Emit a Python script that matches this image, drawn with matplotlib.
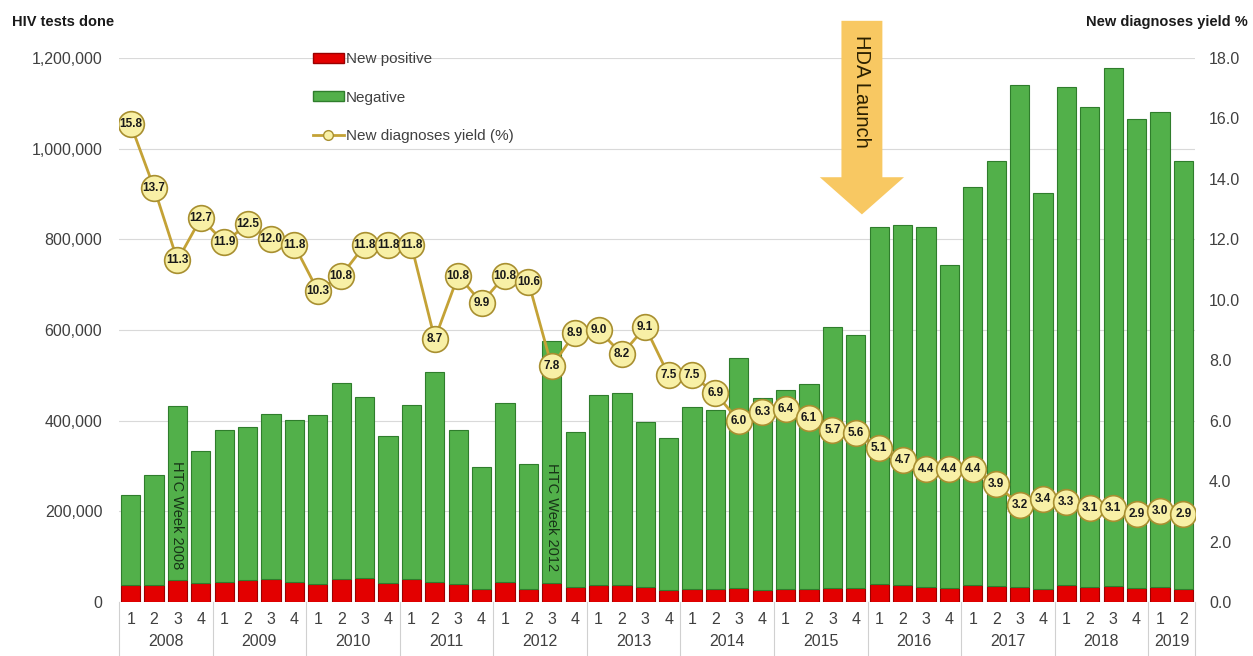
import matplotlib.pyplot as plt
import matplotlib.transforms as mtransforms
from matplotlib.patches import FancyArrow, Patch
from matplotlib.lines import Line2D
import numpy as np

plt.rcParams['font.family'] = ['Liberation Sans Narrow', 'Liberation Sans', 'DejaVu Sans']

# Datos trimestrales 2008 Q1 - 2019 Q2
years = ['2008', '2009', '2010', '2011', '2012', '2013',
         '2014', '2015', '2016', '2017', '2018', '2019']
quarters_per_year = [4, 4, 4, 4, 4, 4, 4, 4, 4, 4, 4, 2]

total_tests = [236000, 281000, 433000, 334000,
               380000, 385000, 415000, 401000,
               413000, 482000, 452000, 367000,
               435000, 508000, 379000, 297000,
               438000, 305000, 575000, 376000,
               457000, 460000, 398000, 362000,
               430000, 423000, 539000, 450000,
               467000, 480000, 607000, 588000,
               827000, 832000, 828000, 743000,
               916000, 972000, 1140000, 903000,
               1135000, 1091000, 1177000, 1065000,
               1080000, 972000]

new_positive = [37000, 37000, 49000, 41000,
                45000, 48000, 50000, 45000,
                40000, 50000, 52000, 41000,
                50000, 44000, 39000, 28000,
                45000, 29000, 43000, 33000,
                38000, 37000, 34000, 26000,
                29000, 28000, 30000, 27000,
                28000, 28000, 31000, 30000,
                40000, 37000, 34000, 31000,
                38000, 36000, 33000, 29000,
                37000, 33000, 35000, 30000,
                32000, 29000]

yield_pct = [15.8, 13.7, 11.3, 12.7,
             11.9, 12.5, 12.0, 11.8,
             10.3, 10.8, 11.8, 11.8,
             11.8, 8.7, 10.8, 9.9,
             10.8, 10.6, 7.8, 8.9,
             9.0, 8.2, 9.1, 7.5,
             7.5, 6.9, 6.0, 6.3,
             6.4, 6.1, 5.7, 5.6,
             5.1, 4.7, 4.4, 4.4,
             4.4, 3.9, 3.2, 3.4,
             3.3, 3.1, 3.1, 2.9,
             3.0, 2.9]

negative = [t - p for t, p in zip(total_tests, new_positive)]
quarter_labels = []
for n in quarters_per_year:
    quarter_labels += [str(q) for q in range(1, n + 1)]

GREEN = '#52B04A'
RED = '#E30000'
GOLD = '#C4A236'
GRAY = '#404040'

fig = plt.figure(figsize=(12.53, 6.56), dpi=100)
ax = fig.add_axes([119 / 1253, 1 - 602 / 656, 1076 / 1253, 544 / 656])
x = np.arange(len(total_tests))

ax.bar(x, new_positive, width=0.82, color=RED, edgecolor='#9A0000', linewidth=0.8, zorder=2)
ax.bar(x, negative, width=0.82, bottom=new_positive, color=GREEN,
       edgecolor='#2F7D2C', linewidth=0.8, zorder=2)

ax.set_xlim(-0.5, len(x) - 0.5)
ax.set_ylim(0, 1200000)
ax.set_yticks(range(0, 1200001, 200000))
ax.set_yticklabels([f'{v:,}' for v in range(0, 1200001, 200000)])
ax.tick_params(axis='y', length=0, pad=12, labelsize=11.5, labelcolor=GRAY)
ax.set_xticks([])
ax.grid(axis='y', color='#D9D9D9', linewidth=0.8, zorder=0)
ax.set_axisbelow(True)
for s in ax.spines.values():
    s.set_visible(False)

# Eje x de dos niveles (trimestre / año)
trans = mtransforms.blended_transform_factory(ax.transData, ax.transAxes)
for i, q in enumerate(quarter_labels):
    ax.text(i, -0.033, q, transform=trans, ha='center', va='center',
            fontsize=11.5, color=GRAY)
start = 0
bounds = [-0.5]
for yr, n in zip(years, quarters_per_year):
    centro = start + (n - 1) / 2
    ax.text(centro, -0.072, yr, transform=trans, ha='center', va='center',
            fontsize=11.5, color=GRAY)
    start += n
    bounds.append(start - 0.5)
for b in bounds:
    ax.plot([b, b], [0, -0.1], transform=trans, color='#D0D0D0',
            linewidth=0.8, clip_on=False)

# Textos dentro de las barras
ax.text(2, 192000, 'HTC Week 2008', rotation=-90, ha='center', va='center',
        fontsize=10.5, color='#173317', zorder=3)
ax.text(18, 188000, 'HTC Week 2012', rotation=-90, ha='center', va='center',
        fontsize=10.5, color='#173317', zorder=3)

# Flecha HDA Launch
flecha = FancyArrow(31.26, 1282000, 0, -427000, width=1.75, head_width=3.6,
                    head_length=82000, length_includes_head=True,
                    color='#F8C862', linewidth=0, clip_on=False, zorder=4)
ax.add_patch(flecha)
ax.text(31.26, 1127000, 'HDA Launch', rotation=-90, ha='center', va='center',
        fontsize=14.5, color='#2B2000', zorder=5, clip_on=False)

# Rendimiento (eje derecho)
ax2 = ax.twinx()
ax2.set_ylim(0, 18)
ax2.set_yticks(np.arange(0, 18.1, 2))
ax2.set_yticklabels([f'{v:.1f}' for v in np.arange(0, 18.1, 2)])
ax2.tick_params(axis='y', length=0, pad=10, labelsize=11.5, labelcolor=GRAY)
for s in ax2.spines.values():
    s.set_visible(False)
ax2.plot(x, yield_pct, color=GOLD, linewidth=2, marker='o', markersize=18.5,
         markerfacecolor='#F8F0A6', markeredgecolor='#A88F30',
         markeredgewidth=1.2, zorder=5)
for i, v in enumerate(yield_pct):
    ax2.text(i, v, f'{v:.1f}', ha='center', va='center', fontsize=8.5,
             fontweight='bold', color='#1A1A1A', zorder=6)

# Leyenda
handles = [Patch(facecolor=RED, edgecolor='#9A0000'),
           Patch(facecolor=GREEN, edgecolor='#2F7D2C'),
           Line2D([0], [0], color=GOLD, linewidth=2, marker='o', markersize=7,
                  markerfacecolor='#F8F0A6', markeredgecolor='#A88F30')]
leg = ax2.legend(handles, ['New positive', 'Negative', 'New diagnoses yield (%)'],
                 loc='upper left', bbox_to_anchor=(307 / 1253, 1 - 46 / 656),
                 bbox_transform=fig.transFigure, frameon=False, fontsize=11,
                 handlelength=2.0, handleheight=0.6, handletextpad=0.15,
                 labelspacing=1.6, borderaxespad=0)
for t in leg.get_texts():
    t.set_color(GRAY)

fig.text(12 / 1253, 1 - 22 / 656, 'HIV tests done', ha='left', va='center',
         fontsize=10.5, fontweight='bold', color='#1A1A1A')
fig.text(1248 / 1253, 1 - 22 / 656, 'New diagnoses yield %', ha='right', va='center',
         fontsize=10.5, fontweight='bold', color='#1A1A1A')

fig.savefig('out.png', dpi=100)
